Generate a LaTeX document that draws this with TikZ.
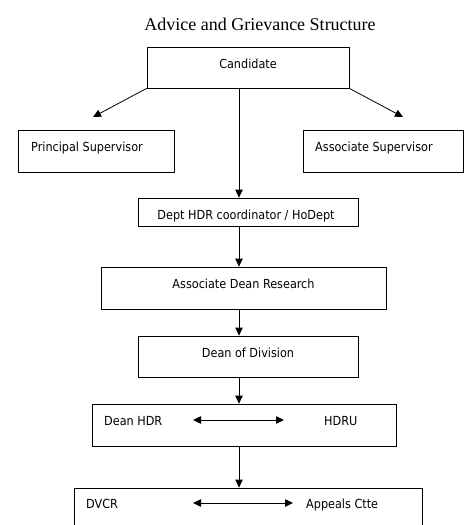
\documentclass[tikz,border=0pt]{standalone}
\usepackage{fontspec}
\setmainfont{Liberation Serif}
\newfontfamily\boxfont{DejaVu Sans Condensed}
\usetikzlibrary{arrows.meta}
\begin{document}
\begin{tikzpicture}[x=1pt,y=-1pt,
  box/.style={draw,line width=0.8pt,inner sep=0pt,minimum width=#1},
  lbl/.style={inner sep=0pt,font=\boxfont\fontsize{12.5}{15}\selectfont},
  arr/.style={line width=0.8pt,-{Triangle[length=8pt,width=7.5pt]}},
  darr/.style={line width=0.8pt,{Triangle[length=8pt,width=7.5pt]}-{Triangle[length=8pt,width=7.5pt]}}]
\useasboundingbox (0,0) rectangle (464,525);
% title
\node[inner sep=0pt,anchor=base,font=\fontsize{18}{20}\selectfont] (title) at (260,30) {Advice and Grievance Structure};
% boxes
\node[box=202pt,minimum height=41pt] (cand) at (248,67.5) {};
\node[box=156pt,minimum height=42pt] (ps) at (96,151) {};
\node[box=160pt,minimum height=42pt] (as) at (383,151) {};
\node[box=220pt,minimum height=28pt] (dept) at (248,212) {};
\node[box=285pt,minimum height=42pt] (adr) at (243.5,288) {};
\node[box=220pt,minimum height=41pt] (dod) at (248,356.5) {};
\node[box=304pt,minimum height=42pt] (dhdr) at (244,425) {};
\node[box=348pt,minimum height=52pt] (dvcr) at (248,514) {};
% labels
\node[lbl,anchor=base] (tcand) at (248,68) {Candidate};
\node[lbl,anchor=base west] (tps) at (31,151.5) {Principal Supervisor};
\node[lbl,anchor=base west] (tas) at (315,151.5) {Associate Supervisor};
\node[lbl,anchor=base] (tdept) at (246,219) {Dept HDR coordinator / HoDept};
\node[lbl,anchor=base] (tadr) at (243.5,288.5) {Associate Dean Research};
\node[lbl,anchor=base] (tdod) at (248,357.5) {Dean of Division};
\node[lbl,anchor=base west] (tdean) at (104,425.5) {Dean HDR};
\node[lbl,anchor=base west] (thdru) at (324,425.5) {HDRU};
\node[lbl,anchor=base west] (tdvcr) at (86,508) {DVCR};
\node[lbl,anchor=base west] (tapp) at (306,508) {Appeals Ctte};
% connector points
\coordinate (spine) at (239,0);
\coordinate (tipL) at (93,117);
\coordinate (tipR) at (403,117);
\coordinate (a1) at (193,420);
\coordinate (a2) at (284,420);
\coordinate (b1) at (193,503);
\coordinate (b2) at (293,503);
% connectors
\draw[arr] (cand.south west) -- (tipL);
\draw[arr] (cand.south east) -- (tipR);
\draw[arr] (cand.south -| spine) -- (dept.north -| spine);
\draw[arr] (dept.south -| spine) -- (adr.north -| spine);
\draw[arr] (adr.south -| spine) -- (dod.north -| spine);
\draw[arr] (dod.south -| spine) -- (dhdr.north -| spine);
\draw[arr] (dhdr.south -| spine) -- (dvcr.north -| spine);
\draw[darr] (a1) -- (a2);
\draw[darr] (b1) -- (b2);
\end{tikzpicture}
\end{document}
